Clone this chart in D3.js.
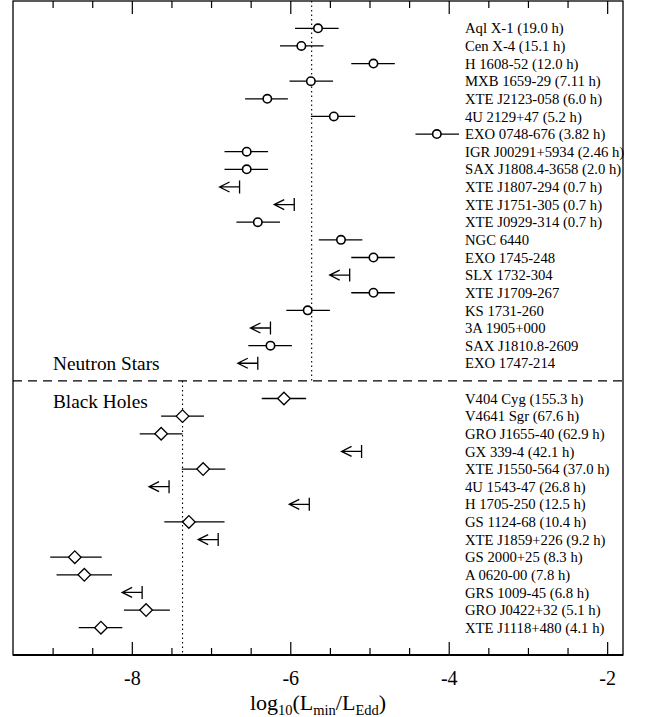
<!DOCTYPE html>
<html>
<head>
<meta charset="utf-8">
<script src="https://cdn.jsdelivr.net/npm/d3@7"></script>
<style>
  body { margin: 0; background: #fff; }
  svg { display: block; }
  text { font-family: "Liberation Serif", "Times New Roman", serif; fill: #000; }
</style>
</head>
<body>
<svg id="chart" width="651" height="717"></svg>
<script>
// neutron stars (null low/high = upper limit)
const nsNames = [
  "Aql X-1 (19.0 h)", "Cen X-4 (15.1 h)", "H 1608-52 (12.0 h)", "MXB 1659-29 (7.11 h)",
  "XTE J2123-058 (6.0 h)", "4U 2129+47 (5.2 h)", "EXO 0748-676 (3.82 h)",
  "IGR J00291+5934 (2.46 h)", "SAX J1808.4-3658 (2.0 h)", "XTE J1807-294 (0.7 h)",
  "XTE J1751-305 (0.7 h)", "XTE J0929-314 (0.7 h)", "NGC 6440", "EXO 1745-248",
  "SLX 1732-304", "XTE J1709-267", "KS 1731-260", "3A 1905+000", "SAX J1810.8-2609",
  "EXO 1747-214"
];
const nsValues = [-5.65, -5.86, -4.95, -5.74, -6.29, -5.45, -4.15, -6.55, -6.55, -6.64,
  -5.95, -6.41, -5.36, -4.95, -5.25, -4.95, -5.78, -6.25, -6.25, -6.41];
const nsLow = [-5.94, -6.13, -5.23, -6.01, -6.57, -5.74, -4.42, -6.83, -6.83, null,
  null, -6.68, -5.64, -5.23, null, -5.23, -6.05, null, -6.53, null];
const nsHigh = [-5.39, -5.58, -4.68, -5.46, -6.03, -5.18, -3.87, -6.28, -6.28, null,
  null, -6.13, -5.09, -4.68, null, -4.68, -5.50, null, -5.98, null];

// black holes
const bhNames = [
  "V404 Cyg (155.3 h)", "V4641 Sgr (67.6 h)", "GRO J1655-40 (62.9 h)", "GX 339-4 (42.1 h)",
  "XTE J1550-564 (37.0 h)", "4U 1543-47 (26.8 h)", "H 1705-250 (12.5 h)", "GS 1124-68 (10.4 h)",
  "XTE J1859+226 (9.2 h)", "GS 2000+25 (8.3 h)", "A 0620-00 (7.8 h)", "GRS 1009-45 (6.8 h)",
  "GRO J0422+32 (5.1 h)", "XTE J1118+480 (4.1 h)"
];
const bhValues = [-6.08, -7.36, -7.63, -5.10, -7.10, -7.53, -5.76, -7.28, -6.91, -8.72,
  -8.60, -7.87, -7.82, -8.39];
const bhLow = [-6.36, -7.63, -7.90, null, -7.37, null, null, -7.59, null, -9.03,
  -8.95, null, -8.10, -8.67];
const bhHigh = [-5.80, -7.09, -7.36, null, -6.82, null, null, -6.83, null, -8.38,
  -8.25, null, -7.52, -8.12];

const nsMean = -5.73;
const bhMean = -7.36;

const majorTicks = [-8, -6, -4, -2];
const minorTicks = [-9, -8.5, -7.5, -7, -6.5, -5.5, -5, -4.5, -3.5, -3, -2.5];

const mLeft = 13, mRight = 623, mTop = 1, mBottom = 655;
const svg = d3.select("#chart");

const x = d3.scaleLinear().domain([-9.5, -1.8]).range([mLeft, mRight]);
// row index: ns 0..19, separator 20, bh 21..34
const y = d3.scaleLinear().domain([0, 34]).range([28.3, 627.7]);

const rows = [];
nsNames.forEach((n, i) => rows.push({ name: n, v: nsValues[i], lo: nsLow[i], hi: nsHigh[i], row: i, type: "ns" }));
bhNames.forEach((n, i) => rows.push({ name: n, v: bhValues[i], lo: bhLow[i], hi: bhHigh[i], row: 21 + i, type: "bh" }));

// frame
svg.append("rect")
  .attr("x", mLeft).attr("y", mTop)
  .attr("width", mRight - mLeft).attr("height", mBottom - mTop)
  .attr("fill", "none").attr("stroke", "#000").attr("stroke-width", 1.3);
svg.append("line")
  .attr("x1", mLeft).attr("x2", mRight).attr("y1", mBottom).attr("y2", mBottom)
  .attr("stroke", "#000").attr("stroke-width", 1.8);

// ticks, bottom (inward) and top (inward)
function tickAxis(vals, size, labels) {
  return d3.axisBottom(x).tickValues(vals).tickSize(size).tickPadding(16)
    .tickFormat(labels ? d => String(d) : "");
}
const gBotMinor = svg.append("g").attr("transform", `translate(0,${mBottom})`).call(tickAxis(minorTicks, -7, false));
const gBotMajor = svg.append("g").attr("transform", `translate(0,${mBottom})`).call(tickAxis(majorTicks, -13, true));
const gTopMinor = svg.append("g").attr("transform", `translate(0,${mTop})`).call(tickAxis(minorTicks, 7, false));
const gTopMajor = svg.append("g").attr("transform", `translate(0,${mTop})`).call(tickAxis(majorTicks, 13, false));
[gBotMinor, gBotMajor, gTopMinor, gTopMajor].forEach(g => {
  g.select(".domain").remove();
  g.selectAll(".tick line").attr("stroke", "#000").attr("stroke-width", 1.2);
});
gBotMajor.selectAll(".tick text")
  .attr("font-family", "Liberation Serif, Times New Roman, serif")
  .attr("font-size", 20).attr("fill", "#000");

// x-axis title with subscripts
const title = svg.append("text")
  .attr("x", (mLeft + mRight) / 2).attr("y", 710)
  .attr("text-anchor", "middle").attr("font-size", 22);
title.append("tspan").text("log");
title.append("tspan").attr("font-size", 14.5).attr("dy", 5).text("10");
title.append("tspan").attr("dy", -5).text("(L");
title.append("tspan").attr("font-size", 14.5).attr("dy", 5).text("min");
title.append("tspan").attr("dy", -5).text("/L");
title.append("tspan").attr("font-size", 14.5).attr("dy", 5).text("Edd");
title.append("tspan").attr("dy", -5).text(")");

// separator and mean lines
const sepY = y(20);
svg.append("line")
  .attr("x1", mLeft).attr("x2", mRight).attr("y1", sepY).attr("y2", sepY)
  .attr("stroke", "#000").attr("stroke-width", 1.3).attr("stroke-dasharray", "9,6");
svg.append("line")
  .attr("x1", x(nsMean)).attr("x2", x(nsMean)).attr("y1", mTop).attr("y2", sepY)
  .attr("stroke", "#000").attr("stroke-width", 1.1).attr("stroke-dasharray", "1.5,3");
svg.append("line")
  .attr("x1", x(bhMean)).attr("x2", x(bhMean)).attr("y1", sepY).attr("y2", mBottom)
  .attr("stroke", "#000").attr("stroke-width", 1.1).attr("stroke-dasharray", "1.5,3");

svg.append("text").attr("x", 53).attr("y", 370).attr("font-size", 19.3).text("Neutron Stars");
svg.append("text").attr("x", 53).attr("y", 408).attr("font-size", 19.3).text("Black Holes");

// error bars
const measured = rows.filter(d => d.lo !== null);
svg.append("g").selectAll("line")
  .data(measured).enter().append("line")
  .attr("x1", d => x(d.lo)).attr("x2", d => x(d.hi))
  .attr("y1", d => y(d.row)).attr("y2", d => y(d.row))
  .attr("stroke", "#000").attr("stroke-width", 1.3);

// circles for neutron stars
svg.append("g").selectAll("circle")
  .data(measured.filter(d => d.type === "ns")).enter().append("circle")
  .attr("cx", d => x(d.v)).attr("cy", d => y(d.row)).attr("r", 4.2)
  .attr("fill", "#fff").attr("stroke", "#000").attr("stroke-width", 1.6);

// diamonds for black holes
svg.append("g").selectAll("path")
  .data(measured.filter(d => d.type === "bh")).enter().append("path")
  .attr("d", d => {
    const cx = x(d.v), cy = y(d.row), r = 6.3;
    return `M${cx - r},${cy}L${cx},${cy - r}L${cx + r},${cy}L${cx},${cy + r}Z`;
  })
  .attr("fill", "#fff").attr("stroke", "#000").attr("stroke-width", 1.3);

// upper limits
svg.append("g").selectAll("path")
  .data(rows.filter(d => d.lo === null)).enter().append("path")
  .attr("d", d => {
    const cx = x(d.v), cy = y(d.row);
    return `M${cx},${cy - 6.5}V${cy + 6.5}M${cx},${cy}H${cx - 20}` +
      `M${cx - 10},${cy - 5}L${cx - 20},${cy}L${cx - 10},${cy + 5}`;
  })
  .attr("fill", "none").attr("stroke", "#000").attr("stroke-width", 1.3);

// source names
svg.append("g").selectAll("text")
  .data(rows).enter().append("text")
  .attr("x", 465).attr("y", d => y(d.row)).attr("dy", "0.35em")
  .attr("font-size", 14.7)
  .text(d => d.name);
</script>
</body>
</html>
